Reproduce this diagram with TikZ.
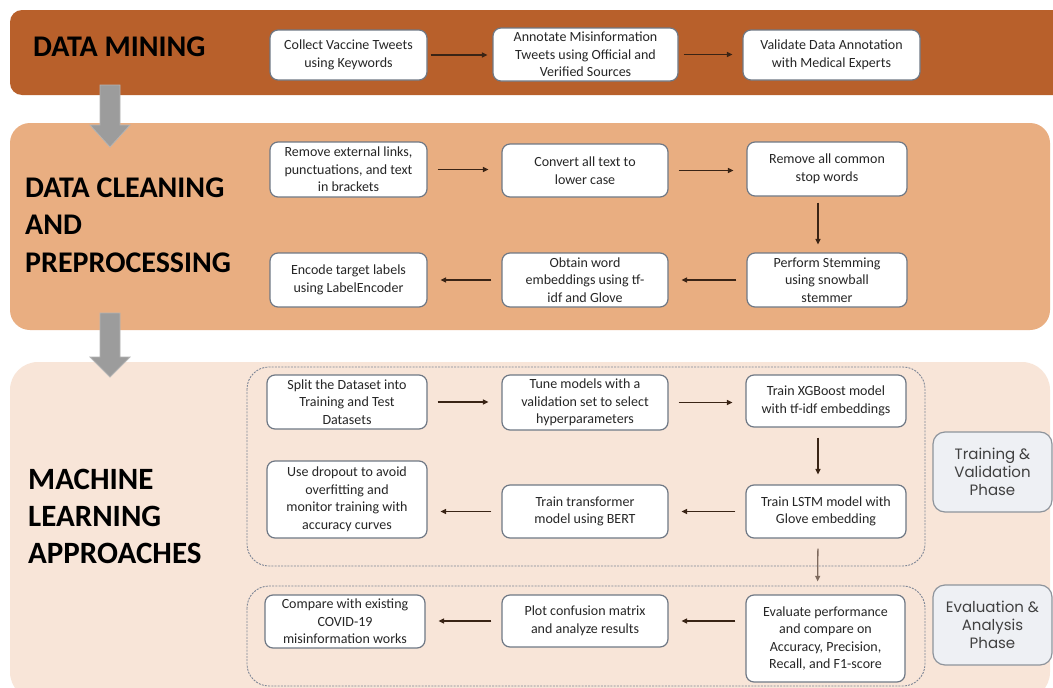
\documentclass[tikz,border=0pt]{standalone}
\usepackage{fontspec}
\setmainfont{Carlito}
\newfontfamily\phasefont{Poppins}
\usetikzlibrary{arrows.meta}
\definecolor{bandA}{HTML}{B8602B}
\definecolor{bandB}{HTML}{E9AE81}
\definecolor{bandC}{HTML}{F8E5D8}
\definecolor{boxline}{HTML}{6F7885}
\definecolor{arrowc}{HTML}{3A2415}
\definecolor{arrowl}{HTML}{7E6A5E}
\definecolor{blockgray}{HTML}{9C9C9C}
\definecolor{blockedge}{HTML}{B4B4B4}
\definecolor{phasefill}{HTML}{EEF0F4}
\definecolor{phaseline}{HTML}{8E949C}
\definecolor{dashc}{HTML}{7E8696}
\begin{document}
\begin{tikzpicture}[x=1pt,y=-1pt,
  stepbox/.style={draw=boxline, line width=1.2pt, fill=white, rounded corners=8pt,
    align=center, inner sep=0pt, font=\fontsize{14}{17.5}\selectfont, text=black!85},
  flow/.style={draw=arrowc, line width=1.3pt, -{Triangle[length=5.5pt,width=5pt]},
    shorten <=10pt, shorten >=13pt},
  title/.style={anchor=base west, inner sep=0pt, align=left, font=\bfseries\fontsize{30}{37.5}\selectfont},
  phasebox/.style={draw=phaseline, line width=1.2pt, fill=phasefill, rounded corners=12pt,
    align=center, inner sep=0pt, minimum width=119pt, minimum height=80pt,
    font=\phasefont\fontsize{15}{18}\selectfont, text=black!75},
  region/.style={draw=dashc, line width=0.9pt, dash pattern=on 2pt off 1.2pt, rounded corners=22pt},
  blockarrow/.style={fill=blockgray, draw=blockedge, line width=0.8pt}
]
\useasboundingbox (0,0) rectangle (1053,688);
\clip (0,0) rectangle (1053,688);
\fill[white] (0,0) rectangle (1053,688);

% bands
\fill[bandA, rounded corners=12pt] (10,10) rectangle (1075,95);
\fill[bandB, rounded corners=20pt] (10,123) rectangle (1050,330);
\fill[bandC, rounded corners=28pt] (10,362) rectangle (1050,700);

% block arrows
\path[blockarrow] (100,85) -- (120,85) -- (120,125) -- (130,125) -- (110,147) -- (90,125) -- (100,125) -- cycle;
\path[blockarrow] (100,313) -- (120,313) -- (120,357) -- (130,357) -- (110,377) -- (90,357) -- (100,357) -- cycle;

% titles (base anchor = last line baseline)
\node[title] (t1) at (33,56) {DATA MINING};
\node[title] (t2) at (25,272) {DATA CLEANING\\AND\\PREPROCESSING};
\node[title, font=\bfseries\fontsize{31}{37}\selectfont] (t3) at (28,563) {MACHINE\\LEARNING\\APPROACHES};

% dashed regions
\draw[region] (247,367) rectangle (925,566);
\draw[region] (247,586) rectangle (925,686);

% phase labels
\node[phasebox] (p1) at (992.5,472) {Training \&\\Validation\\Phase};
\node[phasebox] (p2) at (992.5,625) {Evaluation \&\\Analysis\\Phase};

% data mining
\node[stepbox, minimum width=157pt, minimum height=50pt] (a1) at (348.5,55) {Collect Vaccine Tweets\\using Keywords};
\node[stepbox, minimum width=185pt, minimum height=53pt] (a2) at (585.5,54.5) {Annotate Misinformation\\Tweets using Official and\\Verified Sources};
\node[stepbox, minimum width=177pt, minimum height=50pt] (a3) at (831.5,55) {Validate Data Annotation\\with Medical Experts};

% data cleaning
\node[stepbox, minimum width=157pt, minimum height=55pt] (c1) at (348.5,169.5) {Remove external links,\\punctuations, and text\\in brackets};
\node[stepbox, minimum width=166pt, minimum height=53pt] (c2) at (585,170.5) {Convert all text to\\lower case};
\node[stepbox, minimum width=160pt, minimum height=54pt] (c3) at (827,169) {Remove all common\\stop words};
\node[stepbox, minimum width=157pt, minimum height=54pt] (c4) at (348.5,280) {Encode target labels\\using LabelEncoder};
\node[stepbox, minimum width=166pt, minimum height=54pt] (c5) at (585,280) {Obtain word\\embeddings using tf-\\idf and Glove};
\node[stepbox, minimum width=160pt, minimum height=54pt] (c6) at (827,280) {Perform Stemming\\using snowball\\stemmer};

% machine learning
\node[stepbox, minimum width=160pt, minimum height=54pt] (s1) at (347,402) {Split the Dataset into\\Training and Test\\Datasets};
\node[stepbox, minimum width=166pt, minimum height=55pt] (s2) at (585,402.5) {Tune models with a\\validation set to select\\hyperparameters};
\node[stepbox, minimum width=160pt, minimum height=52pt] (s3) at (826,401) {Train XGBoost model\\with tf-idf embeddings};
\node[stepbox, minimum width=160pt, minimum height=77pt] (s4) at (347,499.5) {Use dropout to avoid\\overfitting and\\monitor training with\\accuracy curves};
\node[stepbox, minimum width=166pt, minimum height=53pt] (s5) at (585,511.5) {Train transformer\\model using BERT};
\node[stepbox, minimum width=160pt, minimum height=53pt] (s6) at (826,511.5) {Train LSTM model with\\Glove embedding};
\node[stepbox, minimum width=159pt, minimum height=87pt] (e1) at (825.5,638.5) {Evaluate performance\\and compare on\\Accuracy, Precision,\\Recall, and F1-score};
\node[stepbox, minimum width=166pt, minimum height=52pt] (e2) at (585,621) {Plot confusion matrix\\and analyze results};
\node[stepbox, minimum width=160pt, minimum height=53pt] (e3) at (345,621.5) {Compare with existing\\COVID-19\\misinformation works};

% connectors
\draw[flow, shorten <=3pt, shorten >=5pt] (a1.east) -- (a1.east -| a2.west);
\draw[flow, shorten <=5pt, shorten >=10pt] (a2.east) -- (a2.east -| a3.west);
\draw[flow] (c1.east) -- (c1.east -| c2.west);
\draw[flow] (c2.east) -- (c2.east -| c3.west);
\draw[flow, shorten <=6pt, shorten >=8pt] ([xshift=-9pt]c3.south) -- ([xshift=-9pt]c6.north);
\draw[flow] (c6.west) -- (c6.west -| c5.east);
\draw[flow] (c5.west) -- (c5.west -| c4.east);
\draw[flow] (s1.east) -- (s1.east -| s2.west);
\draw[flow] (s2.east) -- (s2.east -| s3.west);
\draw[flow, shorten <=10pt, shorten >=10pt] ([xshift=-8pt]s3.south) -- ([xshift=-8pt]s6.north);
\draw[flow] (s6.west) -- (s6.west -| s5.east);
\draw[flow] (s5.west) -- (s5.west -| s4.east);
\draw[flow, draw=arrowl, shorten <=10pt, shorten >=13pt] ([xshift=-8pt]s6.south) -- ([xshift=-8pt]e1.north);
\draw[flow] (e1.west |- e2.east) -- (e2.east);
\draw[flow] (e2.west) -- (e2.west -| e3.east);
\end{tikzpicture}
\end{document}
